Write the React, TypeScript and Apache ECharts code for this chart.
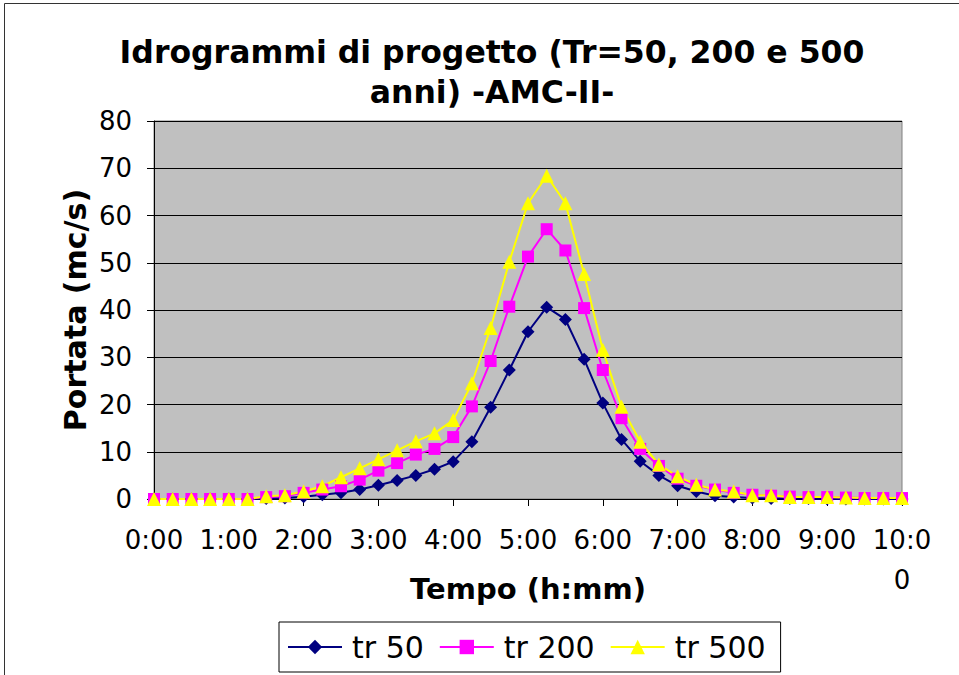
import React, { useEffect, useRef } from "react";
import * as echarts from "echarts";

// Time steps, every 15 minutes from 0:00 to 10:00
const times = [
  "0:00", "0:15", "0:30", "0:45",
  "1:00", "1:15", "1:30", "1:45",
  "2:00", "2:15", "2:30", "2:45",
  "3:00", "3:15", "3:30", "3:45",
  "4:00", "4:15", "4:30", "4:45",
  "5:00", "5:15", "5:30", "5:45",
  "6:00", "6:15", "6:30", "6:45",
  "7:00", "7:15", "7:30", "7:45",
  "8:00", "8:15", "8:30", "8:45",
  "9:00", "9:15", "9:30", "9:45",
  "10:00",
];

// Discharge (mc/s) for each return period
const tr50 = [
  0, 0, 0, 0, 0, 0, 0.1, 0.2, 0.5, 0.9, 1.3, 2.0, 2.9, 3.9, 5.0, 6.3, 7.9,
  12.1, 19.4, 27.3, 35.4, 40.6, 38.0, 29.6, 20.3, 12.6, 8.0, 5.0, 2.8, 1.6,
  0.7, 0.4, 0.2, 0.1, 0.1, 0.1, 0, 0, 0, 0, 0,
];
const tr200 = [
  0, 0, 0, 0, 0, 0, 0.4, 0.6, 1.3, 2.0, 2.7, 4.1, 6.0, 7.6, 9.4, 10.6, 13.1,
  19.6, 29.2, 40.7, 51.3, 57.1, 52.6, 40.4, 27.3, 17.1, 10.6, 7.0, 4.3, 2.8,
  2.0, 1.3, 0.9, 0.7, 0.5, 0.4, 0.4, 0.3, 0.2, 0.2, 0.2,
];
const tr500 = [
  0, 0, 0, 0, 0, 0, 0.6, 0.8, 1.6, 2.7, 4.6, 6.5, 8.4, 10.3, 12.2, 13.9, 16.7,
  24.5, 36.2, 50.2, 62.6, 68.4, 62.6, 47.6, 31.6, 19.5, 12.1, 7.3, 4.8, 3.0,
  2.0, 1.6, 0.8, 0.8, 0.4, 0.4, 0.4, 0.3, 0.2, 0.2, 0.2,
];

const FONT = "DejaVu Sans";

export default function App() {
  const ref = useRef<HTMLDivElement>(null);

  useEffect(() => {
    document.body.style.margin = "0";
    if (!ref.current) return;
    const chart = echarts.init(ref.current, undefined, { renderer: "svg" });

    const lastIdx = times.length - 1;

    chart.setOption({
      animation: false,
      backgroundColor: "#ffffff",
      textStyle: { fontFamily: FONT, color: "#000" },
      title: {
        text: "Idrogrammi di progetto (Tr=50, 200 e 500\nanni) -AMC-II-",
        left: 487,
        top: 27,
        textAlign: "center",
        textStyle: {
          fontFamily: FONT,
          fontWeight: "bold",
          fontSize: 31.5,
          lineHeight: 40,
          color: "#000",
        },
      },
      graphic: [
        {
          type: "rect",
          shape: { x: 4.5, y: 3.5, width: 1200, height: 1000 },
          style: { fill: "none", stroke: "#333", lineWidth: 1 },
          silent: true,
          z: -10,
        },
      ],
      legend: {
        left: 279,
        top: 622,
        padding: [10, 15, 10, 8],
        borderColor: "#000",
        borderWidth: 1,
        itemWidth: 54,
        itemHeight: 18,
        itemGap: 15,
        textStyle: {
          fontFamily: FONT,
          fontSize: 30,
          color: "#000",
          padding: [0, 0, 0, 5],
        },
        data: ["tr 50", "tr 200", "tr 500"],
      },
      grid: {
        left: 154,
        right: 57,
        top: 121,
        bottom: 176,
        show: true,
        backgroundColor: "#C0C0C0",
        borderColor: "#808080",
        borderWidth: 1,
      },
      xAxis: {
        type: "category",
        data: times,
        boundaryGap: false,
        name: "Tempo (h:mm)",
        nameLocation: "middle",
        nameGap: 75,
        nameMoveOverlap: false,
        nameTextStyle: {
          fontFamily: FONT,
          fontWeight: "bold",
          fontSize: 29,
          color: "#000",
        },
        axisLine: { show: true, lineStyle: { color: "#000", width: 1 } },
        axisTick: {
          show: true,
          interval: 3,
          length: 7,
          lineStyle: { color: "#000" },
        },
        axisLabel: {
          interval: 3,
          margin: 21,
          fontFamily: FONT,
          fontSize: 26,
          color: "#000",
          lineHeight: 40,
          formatter: (v: string, i: number) =>
            i === lastIdx ? v.slice(0, 4) + "\n" + v.slice(4) : v,
        },
        splitLine: { show: false },
      },
      yAxis: {
        type: "value",
        min: 0,
        max: 80,
        interval: 10,
        name: "Portata (mc/s)",
        nameLocation: "middle",
        nameGap: 64,
        nameRotate: 90,
        nameMoveOverlap: false,
        nameTextStyle: {
          fontFamily: FONT,
          fontWeight: "bold",
          fontSize: 30,
          color: "#000",
        },
        axisLine: { show: true, lineStyle: { color: "#000", width: 1 } },
        axisTick: { show: true, length: 7, lineStyle: { color: "#000" } },
        axisLabel: {
          margin: 22,
          fontFamily: FONT,
          fontSize: 26,
          color: "#000",
        },
        splitLine: { show: true, lineStyle: { color: "#000", width: 1 } },
      },
      series: [
        {
          name: "tr 50",
          type: "line",
          data: tr50,
          showAllSymbol: true,
          symbol: "diamond",
          symbolSize: 13,
          lineStyle: { color: "#000080", width: 2 },
          itemStyle: { color: "#000080" },
        },
        {
          name: "tr 200",
          type: "line",
          data: tr200,
          showAllSymbol: true,
          symbol: "rect",
          symbolSize: 12,
          lineStyle: { color: "#FF00FF", width: 2 },
          itemStyle: { color: "#FF00FF" },
        },
        {
          name: "tr 500",
          type: "line",
          data: tr500,
          showAllSymbol: true,
          symbol: "triangle",
          symbolSize: 14,
          lineStyle: { color: "#FFFF00", width: 2 },
          itemStyle: { color: "#FFFF00" },
        },
      ],
    });

    return () => chart.dispose();
  }, []);

  return <div ref={ref} style={{ width: 959, height: 675 }} />;
}
